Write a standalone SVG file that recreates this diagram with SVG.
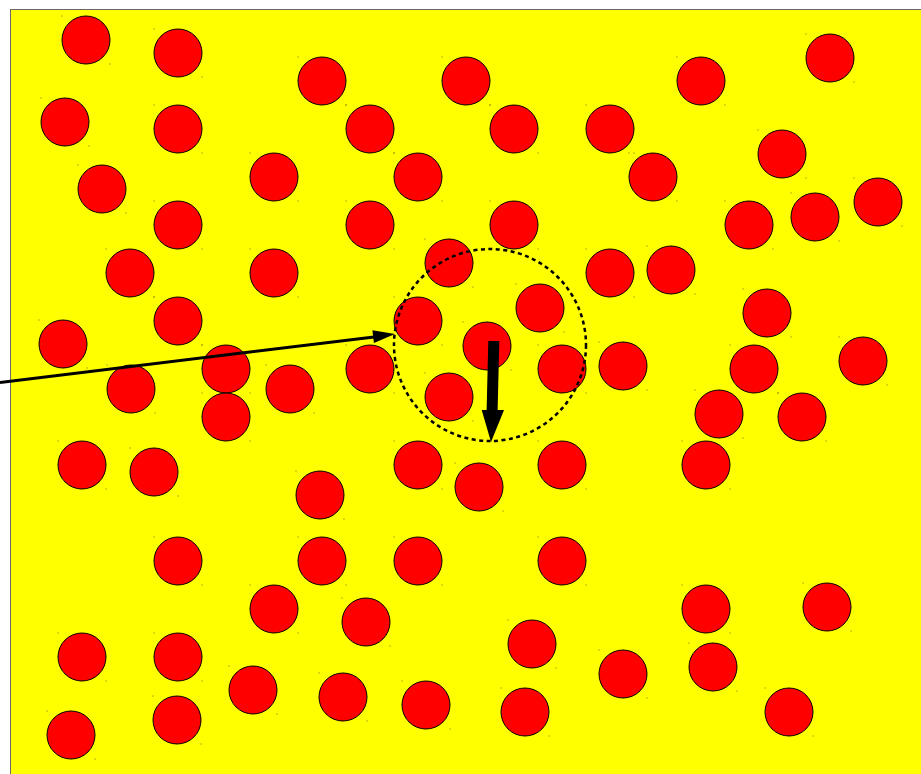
<svg xmlns="http://www.w3.org/2000/svg" xmlns:xlink="http://www.w3.org/1999/xlink" width="921" height="774" viewBox="0 0 921 774">
<style>
.ball{fill:#ff0000;stroke:#000;stroke-width:1}
.dot{fill:#6b6b20}
.zone{fill:none;stroke:#000;stroke-width:2.5;stroke-dasharray:4 3.5}
</style>
<defs>
<g id="b">
<circle class="ball" cx="0" cy="0" r="24"/>
<rect class="dot" x="-24.5" y="-24.5" width="1" height="1"/>
<rect class="dot" x="23.5" y="23.5" width="1" height="1"/>
</g>
</defs>
<rect width="921" height="774" fill="#ffffff"/>
<rect x="10.5" y="9.5" width="920" height="775" fill="#ffff00" stroke="#6a6a6a" stroke-width="1"/>
<g id="balls">
<use xlink:href="#b" x="86" y="40"/>
<use xlink:href="#b" x="178" y="53"/>
<use xlink:href="#b" x="322" y="81"/>
<use xlink:href="#b" x="466" y="81"/>
<use xlink:href="#b" x="701" y="81"/>
<use xlink:href="#b" x="830" y="58"/>
<use xlink:href="#b" x="65" y="122"/>
<use xlink:href="#b" x="178" y="129"/>
<use xlink:href="#b" x="370" y="129"/>
<use xlink:href="#b" x="514" y="129"/>
<use xlink:href="#b" x="610" y="129"/>
<use xlink:href="#b" x="782" y="154"/>
<use xlink:href="#b" x="102" y="189"/>
<use xlink:href="#b" x="274" y="177"/>
<use xlink:href="#b" x="418" y="177"/>
<use xlink:href="#b" x="653" y="177"/>
<use xlink:href="#b" x="178" y="225"/>
<use xlink:href="#b" x="370" y="225"/>
<use xlink:href="#b" x="514" y="225"/>
<use xlink:href="#b" x="749" y="225"/>
<use xlink:href="#b" x="815" y="217"/>
<use xlink:href="#b" x="878" y="202"/>
<use xlink:href="#b" x="130" y="273"/>
<use xlink:href="#b" x="274" y="273"/>
<use xlink:href="#b" x="449" y="263"/>
<use xlink:href="#b" x="610" y="273"/>
<use xlink:href="#b" x="671" y="270"/>
<use xlink:href="#b" x="178" y="321"/>
<use xlink:href="#b" x="63" y="344"/>
<use xlink:href="#b" x="418" y="321"/>
<use xlink:href="#b" x="540" y="308"/>
<use xlink:href="#b" x="767" y="313"/>
<use xlink:href="#b" x="226" y="369"/>
<use xlink:href="#b" x="131" y="389"/>
<use xlink:href="#b" x="290" y="389"/>
<use xlink:href="#b" x="370" y="369"/>
<use xlink:href="#b" x="487" y="346"/>
<use xlink:href="#b" x="562" y="369"/>
<use xlink:href="#b" x="623" y="366"/>
<use xlink:href="#b" x="754" y="369"/>
<use xlink:href="#b" x="863" y="361"/>
<use xlink:href="#b" x="226" y="417"/>
<use xlink:href="#b" x="449" y="397"/>
<use xlink:href="#b" x="719" y="414"/>
<use xlink:href="#b" x="802" y="417"/>
<use xlink:href="#b" x="82" y="465"/>
<use xlink:href="#b" x="154" y="472"/>
<use xlink:href="#b" x="418" y="465"/>
<use xlink:href="#b" x="479" y="487"/>
<use xlink:href="#b" x="562" y="465"/>
<use xlink:href="#b" x="706" y="465"/>
<use xlink:href="#b" x="320" y="495"/>
<use xlink:href="#b" x="178" y="561"/>
<use xlink:href="#b" x="322" y="561"/>
<use xlink:href="#b" x="418" y="561"/>
<use xlink:href="#b" x="562" y="561"/>
<use xlink:href="#b" x="274" y="609"/>
<use xlink:href="#b" x="366" y="622"/>
<use xlink:href="#b" x="706" y="609"/>
<use xlink:href="#b" x="827" y="607"/>
<use xlink:href="#b" x="532" y="644"/>
<use xlink:href="#b" x="82" y="657"/>
<use xlink:href="#b" x="178" y="657"/>
<use xlink:href="#b" x="623" y="674"/>
<use xlink:href="#b" x="713" y="667"/>
<use xlink:href="#b" x="253" y="690"/>
<use xlink:href="#b" x="343" y="697"/>
<use xlink:href="#b" x="426" y="705"/>
<use xlink:href="#b" x="525" y="712"/>
<use xlink:href="#b" x="177" y="720"/>
<use xlink:href="#b" x="789" y="712"/>
<use xlink:href="#b" x="71" y="735"/>
</g>
<circle id="zone" class="zone" cx="490" cy="345" r="96"/>
<g id="connectors">
<path d="M0,382.5 L374,337" fill="none" stroke="#000" stroke-width="3"/>
<polygon points="395,334 372.4,330.2 373.9,343.1" fill="#000"/>
<polygon points="488.3,341 499.3,341 497.6,411 486.6,411" fill="#000"/>
<polygon points="481.7,410 504,410 491,442" fill="#000"/>
</g>
</svg>
